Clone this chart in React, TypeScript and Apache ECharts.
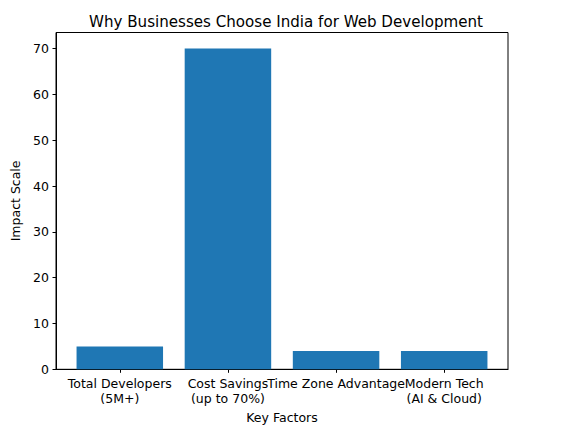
import React, { useEffect, useRef } from "react";
import * as echarts from "echarts";

const categories = [
  "Total Developers\n(5M+)",
  "Cost Savings\n(up to 70%)",
  "Time Zone Advantage",
  "Modern Tech\n(AI & Cloud)",
];
const impactValues = [5, 70, 4, 4];
const yTicks = [0, 10, 20, 30, 40, 50, 60, 70];

const FONT = "DejaVu Sans";

export default function App() {
  const ref = useRef<HTMLDivElement>(null);
  useEffect(() => {
    document.body.style.margin = "0";
    if (!ref.current) return;
    const chart = echarts.init(ref.current, null, { renderer: "svg" });
    const positions = categories.map((_, i) => i);
    chart.setOption({
      animation: false,
      backgroundColor: "#ffffff",
      title: {
        text: "Why Businesses Choose India for Web Development",
        left: 84,
        top: 9,
        textStyle: { fontFamily: FONT, fontSize: 15.1, fontWeight: "normal", color: "#000" },
      },
      grid: {
        left: 56,
        right: 65,
        top: 32.5,
        bottom: 64.7,
        show: true,
        borderColor: "#000",
        borderWidth: 1,
        backgroundColor: "transparent",
      },
      xAxis: {
        type: "value",
        min: -0.59,
        max: 3.59,
        name: "Key Factors",
        nameLocation: "middle",
        nameGap: 42,
        nameTextStyle: { fontFamily: FONT, fontSize: 12.5, color: "#000" },
        splitLine: { show: false },
        axisLine: { show: true, onZero: false, lineStyle: { color: "#000", width: 1 } },
        axisTick: {
          show: true,
          length: 3.5,
          lineStyle: { color: "#000" },
          customValues: positions,
        },
        axisLabel: {
          customValues: positions,
          fontFamily: FONT,
          fontSize: 12.5,
          color: "#000",
          lineHeight: 15,
          margin: 6.5,
          formatter: (v: number) => categories[Math.round(v)] ?? "",
        },
      },
      yAxis: {
        type: "value",
        min: 0,
        max: 73.5,
        interval: 10,
        name: "Impact Scale",
        nameLocation: "middle",
        nameGap: 30,
        nameRotate: 90,
        nameTextStyle: { fontFamily: FONT, fontSize: 12.5, color: "#000" },
        splitLine: { show: false },
        axisLine: { show: true, onZero: false, lineStyle: { color: "#000", width: 1 } },
        axisTick: { show: true, length: 3.5, lineStyle: { color: "#000" } },
        axisLabel: {
          fontFamily: FONT,
          fontSize: 12.5,
          color: "#000",
          margin: 7,
          showMaxLabel: false,
          formatter: (v: number) => (yTicks.includes(v) ? String(v) : ""),
        },
      },
      series: [
        {
          type: "bar",
          data: impactValues.map((v, i) => [i, v]),
          barWidth: 86.5,
          itemStyle: { color: "#1f77b4" },
        },
      ],
    });
    return () => chart.dispose();
  }, []);
  return <div ref={ref} style={{ width: 573, height: 434 }} />;
}
